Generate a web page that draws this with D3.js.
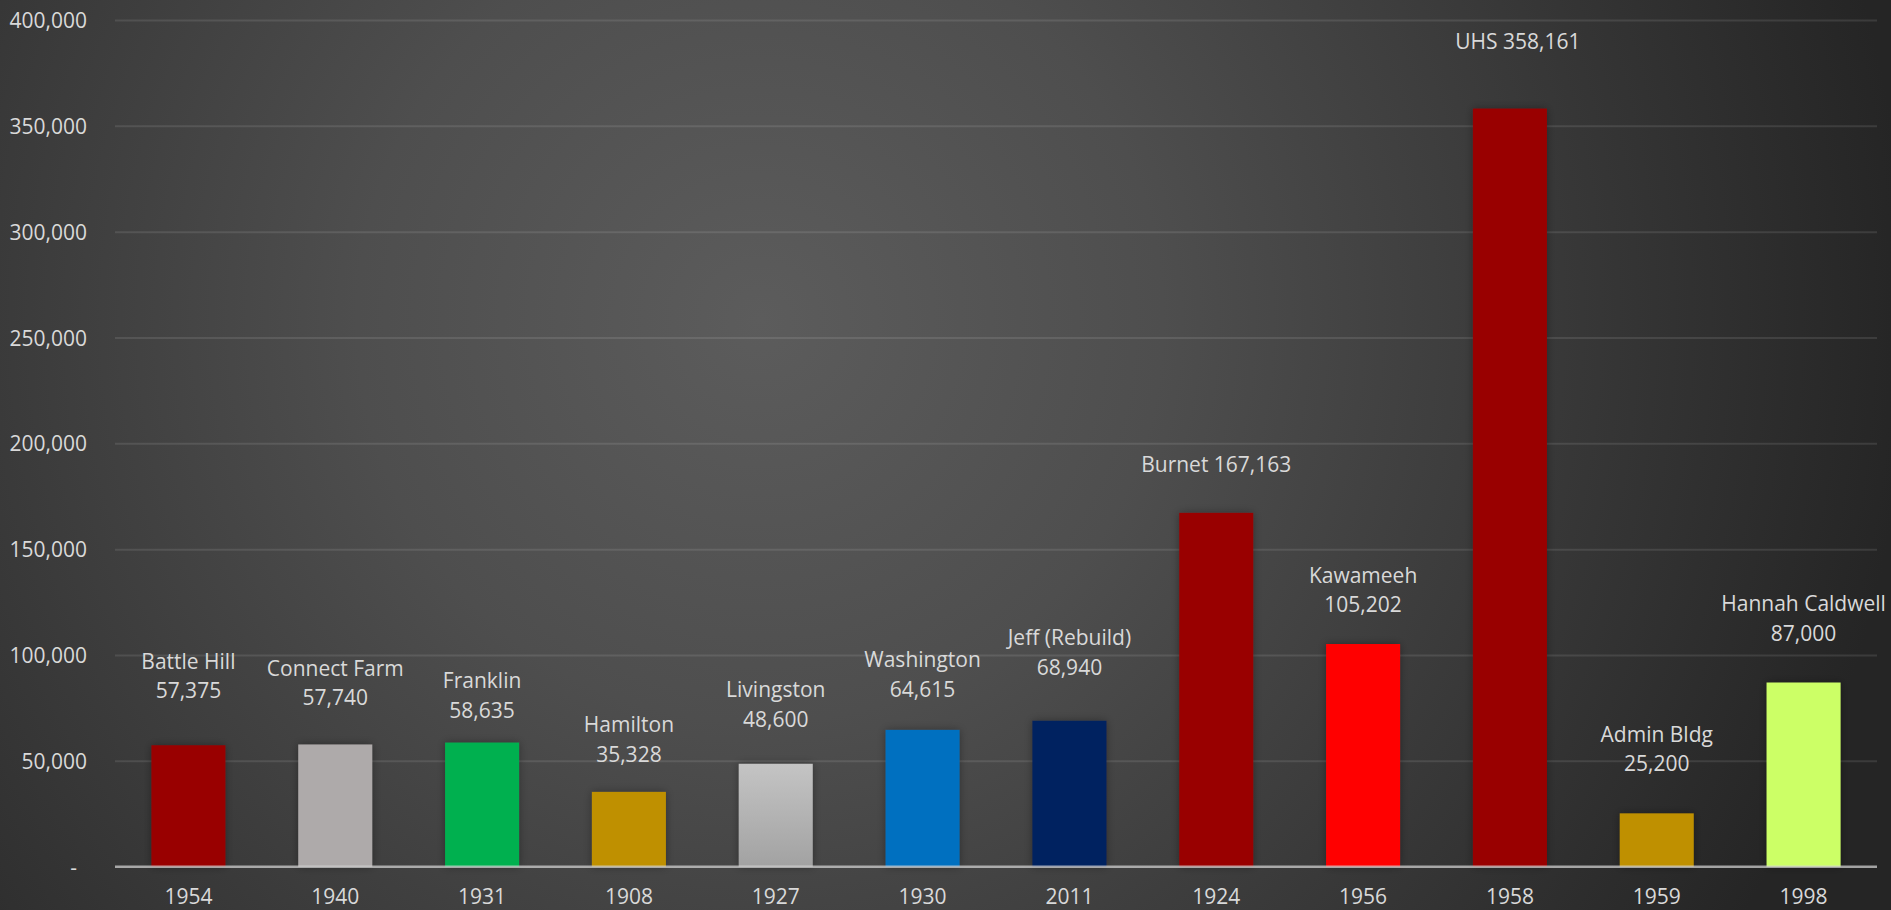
<!DOCTYPE html>
<html>
<head>
<meta charset="utf-8">
<script src="https://cdn.jsdelivr.net/npm/d3@7/dist/d3.min.js"></script>
<style>
  html, body { margin: 0; padding: 0; background: #262626; }
  svg { display: block; }
  text { font-family: "Open Sans", "Liberation Sans", sans-serif; }
</style>
</head>
<body>
<svg id="chart" width="1891" height="910"></svg>
<script>
// ---- data ----
const schools = ["Battle Hill", "Connect Farm", "Franklin", "Hamilton", "Livingston", "Washington",
                 "Jeff (Rebuild)", "Burnet", "Kawameeh", "UHS", "Admin Bldg", "Hannah Caldwell"];
const years = ["1954", "1940", "1931", "1908", "1927", "1930", "2011", "1924", "1956", "1958", "1959", "1998"];
const squareFeet = [57375, 57740, 58635, 35328, 48600, 64615, 68940, 167163, 105202, 358161, 25200, 87000];
const barColors = ["#990000", "#AEAAAA", "#00B050", "#BF9000", "url(#livGrad)", "#0070C0",
                   "#002060", "#990000", "#FF0000", "#990000", "#BF9000", "#CCFF66"];
const yTicks = [0, 50000, 100000, 150000, 200000, 250000, 300000, 350000, 400000];
// label layout (annotation placement, not data)
const labelLines = [2, 2, 2, 2, 2, 2, 2, 1, 2, 1, 2, 2];
const labelGap = [47, 39, 25, 30, 37, 33, 46, 41, 32, 60, 42, 42];
const labelShift = [0, 0, 0, 0, 0, 0, 0, 0, 0, 8, 0, 0];

// ---- layout ----
const W = 1891, H = 910;
const plotLeft = 115, plotRight = 1877, plotTop = 20, plotBottom = 866.7;
const fontSize = 21;
const textColor = "#d9d9d9";

const svg = d3.select("#chart");
const defs = svg.append("defs");

const bg = defs.append("radialGradient").attr("id", "bgGrad")
  .attr("gradientUnits", "userSpaceOnUse")
  .attr("cx", 760).attr("cy", 320).attr("r", 1150);
bg.append("stop").attr("offset", "0%").attr("stop-color", "#5c5c5c");
bg.append("stop").attr("offset", "35%").attr("stop-color", "#4e4e4e");
bg.append("stop").attr("offset", "100%").attr("stop-color", "#252525");

const lg = defs.append("linearGradient").attr("id", "livGrad")
  .attr("x1", 0).attr("y1", 0).attr("x2", 0).attr("y2", 1);
lg.append("stop").attr("offset", "0%").attr("stop-color", "#c4c4c4");
lg.append("stop").attr("offset", "100%").attr("stop-color", "#a2a2a2");

const sh = defs.append("filter").attr("id", "shadow")
  .attr("x", "-30%").attr("y", "-30%").attr("width", "160%").attr("height", "160%");
sh.append("feDropShadow").attr("dx", 0).attr("dy", 0).attr("stdDeviation", 4)
  .attr("flood-color", "#000").attr("flood-opacity", 0.35);

svg.append("rect").attr("width", W).attr("height", H).attr("fill", "url(#bgGrad)");

const x = d3.scaleBand().domain(schools).range([plotLeft, plotRight])
  .paddingInner(0.496).paddingOuter(0.248);
const y = d3.scaleLinear().domain([0, 400000]).range([plotBottom, plotTop]);

const fmt = d3.format(",");

// y axis with gridlines
const yAxis = svg.append("g").attr("transform", `translate(${plotLeft},0)`)
  .call(d3.axisLeft(y).tickValues(yTicks)
    .tickSize(-(plotRight - plotLeft)).tickPadding(28)
    .tickFormat(d => d === 0 ? "-" : fmt(d)));
yAxis.select(".domain").remove();
yAxis.selectAll(".tick line")
  .attr("stroke", "#ffffff").attr("stroke-opacity", d => d === 0 ? 0 : 0.1).attr("stroke-width", 2);
yAxis.selectAll(".tick text")
  .attr("fill", textColor).attr("font-size", fontSize)
  .attr("dy", "0.36em")
  .attr("dx", d => d === 0 ? -10 : 0);

// bars
svg.append("g").selectAll("rect").data(schools).join("rect")
  .attr("x", d => x(d))
  .attr("width", x.bandwidth())
  .attr("y", (d, i) => y(squareFeet[i]))
  .attr("height", (d, i) => y(0) - y(squareFeet[i]))
  .attr("fill", (d, i) => barColors[i])
  .attr("filter", "url(#shadow)");

// baseline axis
svg.append("line")
  .attr("x1", plotLeft).attr("x2", plotRight)
  .attr("y1", y(0)).attr("y2", y(0))
  .attr("stroke", "#d9d9d9").attr("stroke-opacity", 0.7).attr("stroke-width", 2.5);

// x axis (years)
const xAxis = svg.append("g").attr("transform", `translate(0,${plotBottom})`)
  .call(d3.axisBottom(x).tickSize(0).tickPadding(22)
    .tickFormat((d, i) => years[i]));
xAxis.select(".domain").remove();
xAxis.selectAll(".tick text").attr("fill", textColor).attr("font-size", fontSize);

// data labels
const lineH = 29.5;
const labels = svg.append("g").selectAll("text").data(schools).join("text")
  .attr("text-anchor", "middle")
  .attr("fill", textColor)
  .attr("font-size", fontSize)
  .attr("x", (d, i) => x(d) + x.bandwidth() / 2 + labelShift[i])
  .attr("y", (d, i) => y(squareFeet[i]) - labelGap[i] - (labelLines[i] === 2 ? lineH : 0));
labels.each(function (d, i) {
  const t = d3.select(this);
  const cx = x(d) + x.bandwidth() / 2 + labelShift[i];
  if (labelLines[i] === 1) {
    t.text(d + " " + fmt(squareFeet[i]));
  } else {
    t.append("tspan").attr("x", cx).text(d);
    t.append("tspan").attr("x", cx).attr("dy", lineH).text(fmt(squareFeet[i]));
  }
});
</script>
</body>
</html>
